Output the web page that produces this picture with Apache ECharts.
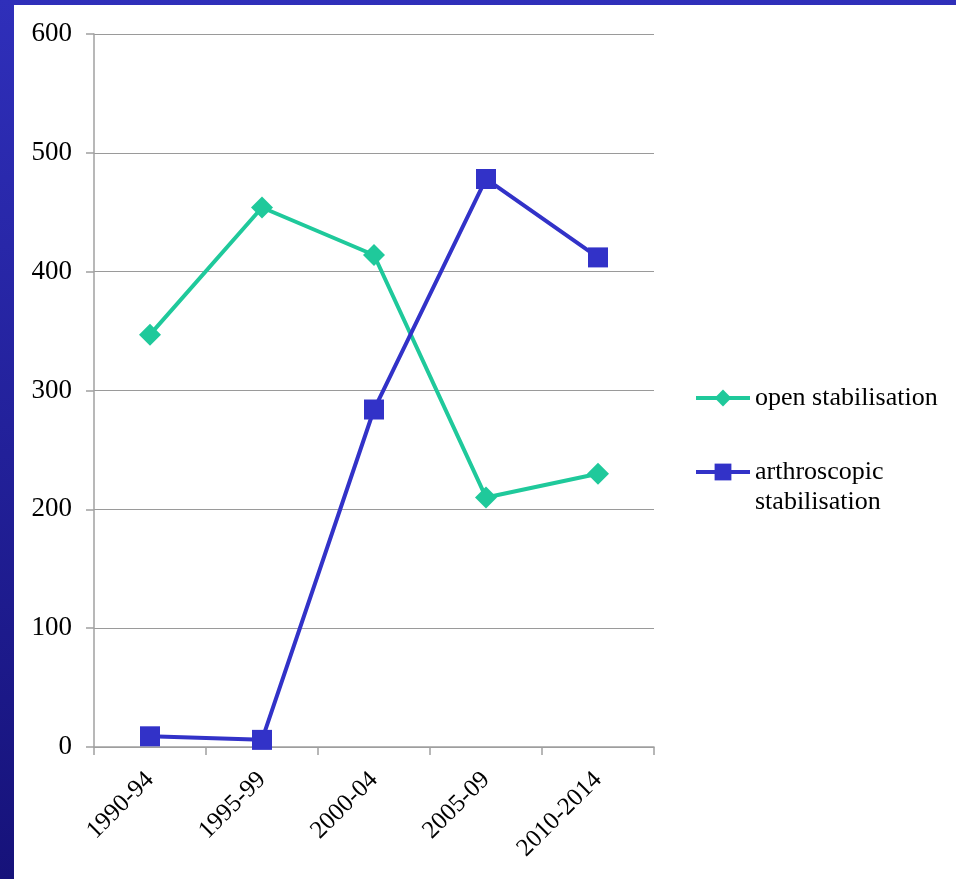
<!DOCTYPE html>
<html>
<head>
<meta charset="utf-8">
<script src="https://cdn.jsdelivr.net/npm/echarts@6/dist/echarts.min.js"></script>
<style>
  html, body { margin: 0; padding: 0; }
  body {
    width: 956px; height: 879px; overflow: hidden;
    background: linear-gradient(to bottom, #2f2fba, #16127a);
    position: relative;
  }
  .paper { position: absolute; left: 14px; top: 5px; right: 0; bottom: 0; background: #fff; }
  #chart { position: absolute; left: 0; top: 0; width: 956px; height: 879px; }
</style>
</head>
<body>
<div class="paper"></div>
<div id="chart"></div>
<script>
  // 数据
  var periods = ['1990-94', '1995-99', '2000-04', '2005-09', '2010-2014'];
  var openStab = [347, 454, 414, 210, 230];
  var arthroStab = [9, 6, 284, 478, 412];
  var yTicks = [0, 100, 200, 300, 400, 500, 600];

  var font = '"Liberation Serif", "Times New Roman", serif';
  var myChart = echarts.init(document.getElementById('chart'));
  var option = {
    backgroundColor: 'transparent',
    animation: false,
    textStyle: { fontFamily: font },
    grid: { left: 94, top: 34, width: 560, height: 713 },
    legend: {
      orient: 'vertical',
      left: 689,
      top: 378,
      itemGap: 14,
      itemWidth: 54,
      itemHeight: 21,
      lineStyle: { width: 4 },
      textStyle: { fontFamily: font, fontSize: 26, color: '#000', lineHeight: 30 },
      // 第二项：图标对准第一行
      formatter: function (name) {
        return name === 'arthroscopic stabilisation' ? '\narthroscopic\nstabilisation' : name;
      },
      data: ['open stabilisation', 'arthroscopic stabilisation']
    },
    xAxis: {
      type: 'category',
      data: periods,
      boundaryGap: true,
      axisLine: { lineStyle: { color: '#a0a0a0', width: 1.5 } },
      axisTick: { show: true, length: 8, lineStyle: { color: '#a0a0a0', width: 1.5 } },
      axisLabel: { rotate: 45, margin: 29, fontSize: 25, color: '#000', fontFamily: font }
    },
    yAxis: {
      type: 'value',
      min: 0,
      max: yTicks[yTicks.length - 1],
      interval: 100,
      axisLine: { show: true, lineStyle: { color: '#a0a0a0', width: 1.5 } },
      axisTick: { show: true, length: 8, lineStyle: { color: '#a0a0a0', width: 1.5 } },
      splitLine: { lineStyle: { color: '#9a9a9a', width: 1 } },
      axisLabel: { margin: 22, fontSize: 27, color: '#000', fontFamily: font }
    },
    series: [
      {
        name: 'open stabilisation',
        type: 'line',
        data: openStab,
        symbol: 'diamond',
        symbolSize: 22,
        lineStyle: { color: '#1fc99b', width: 4 },
        itemStyle: { color: '#1fc99b' }
      },
      {
        name: 'arthroscopic stabilisation',
        type: 'line',
        data: arthroStab,
        symbol: 'rect',
        symbolSize: 20,
        lineStyle: { color: '#3232c8', width: 4 },
        itemStyle: { color: '#3232c8' }
      }
    ]
  };
  option && myChart.setOption(option);
</script>
</body>
</html>
